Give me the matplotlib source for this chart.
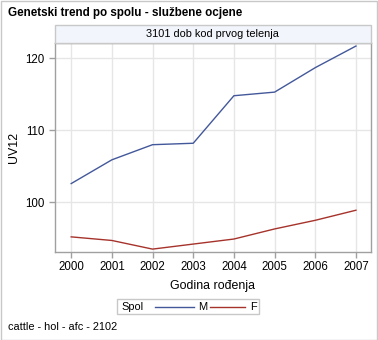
import matplotlib
matplotlib.use("Agg")
import matplotlib.pyplot as plt
from matplotlib.patches import Rectangle
from matplotlib.lines import Line2D

plt.rcParams["font.family"] = ["Liberation Sans", "DejaVu Sans"]

# ---------------------------------------------------------
# data
# ---------------------------------------------------------
years = [2000, 2001, 2002, 2003, 2004, 2005, 2006, 2007]
uv_m = [102.6, 105.9, 108.0, 108.2, 114.8, 115.3, 118.7, 121.7]
uv_f = [95.2, 94.7, 93.5, 94.2, 94.9, 96.3, 97.5, 98.9]
y_ticks = [100, 110, 120]

title = "Genetski trend po spolu - službene ocjene"
panel_title = "3101 dob kod prvog telenja"
footnote = "cattle - hol - afc - 2102"

col_m = "#43589a"
col_f = "#a6332b"
grid_col = "#e6e6e6"
frame_col = "#a0a0a0"
small = 7.9

W, H = 378, 340
fig = plt.figure(figsize=(W / 100, H / 100), dpi=100)

def fx(px):
    return px / W

def fy(py):
    return 1 - py / H

# outer frame
fig.patches.append(Rectangle((0.5 / W, 0.5 / H), 1 - 1.5 / W, 1 - 1.5 / H,
                             transform=fig.transFigure, fill=False,
                             edgecolor="#c8c8c8", linewidth=1))

left, right, top, bottom = 54.5, 371, 43.3, 251.7
ax = fig.add_axes([fx(left), fy(bottom), fx(right - left), (bottom - top) / H])

ax.plot(years, uv_m, color=col_m, linewidth=1)
ax.plot(years, uv_f, color=col_f, linewidth=1)

ax.set_xlim(1999.59, 2007.37)
ax.set_ylim(93.14, 122.08)
ax.set_xticks(years)
ax.set_yticks(y_ticks)
ax.grid(True, color=grid_col, linewidth=1)
ax.set_axisbelow(True)
for s in ax.spines.values():
    s.set_color(frame_col)
    s.set_linewidth(1)
ax.tick_params(direction="out", length=4, width=1, color=frame_col,
               labelsize=small + 0.4, pad=3)

ax.set_xlabel("Godina rođenja", fontsize=8.9, labelpad=5)
ax.set_ylabel("UV12", fontsize=8.9)
ax.yaxis.set_label_coords((20 - left) / (right - left), 0.5)

# panel header
hdr_top = 25
fig.patches.append(Rectangle((fx(left), fy(top)), fx(right - left), (top - hdr_top) / H,
                             transform=fig.transFigure, facecolor="#f2f5fc",
                             edgecolor="#c8c8c8", linewidth=1))
fig.text(fx((left + right) / 2), fy((top + hdr_top) / 2), panel_title,
         ha="center", va="center", fontsize=small)

fig.text(fx(8), fy(13), title, ha="left", va="center", fontsize=8.4, fontweight="bold")
fig.text(fx(8), fy(327), footnote, ha="left", va="center", fontsize=small)

# legend
fig.patches.append(Rectangle((fx(117), fy(314)), fx(142), 15 / H,
                             transform=fig.transFigure, facecolor="white",
                             edgecolor="#c8c8c8", linewidth=1))
ly = fy(306.5)
fig.text(fx(121), ly, "Spol", ha="left", va="center", fontsize=small)
fig.lines.append(Line2D([fx(155), fx(194)], [ly, ly], color=col_m, linewidth=1,
                        transform=fig.transFigure))
fig.text(fx(198), ly, "M", ha="left", va="center", fontsize=small)
fig.lines.append(Line2D([fx(210), fx(245)], [ly, ly], color=col_f, linewidth=1,
                        transform=fig.transFigure))
fig.text(fx(250), ly, "F", ha="left", va="center", fontsize=small)

fig.savefig("out.png", dpi=100)
